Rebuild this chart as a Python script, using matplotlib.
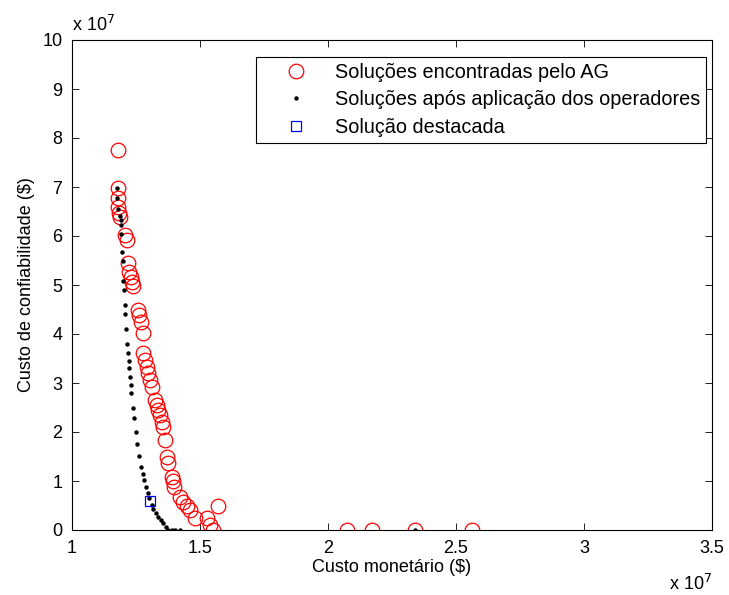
import numpy as np
import matplotlib
matplotlib.use("Agg")
from matplotlib import pyplot as plt

# custos em unidades de 1e7
ag_custo_monetario = [
    1.178, 1.178, 1.178, 1.179, 1.183, 1.187, 1.207, 1.214, 1.218,
    1.224, 1.229, 1.233, 1.239, 1.259, 1.263, 1.268, 1.279,
    1.279, 1.285, 1.292, 1.298, 1.305, 1.311,
    1.324, 1.331, 1.337, 1.344, 1.350, 1.354, 1.363,
    1.370, 1.376, 1.389, 1.393, 1.398,
    1.422, 1.435, 1.448, 1.461, 1.480,
    1.572, 1.526, 1.539, 1.552,
    2.075, 2.170, 2.340, 2.564,
]
ag_custo_confiab = [
    7.75, 6.97, 6.78, 6.59, 6.47, 6.39, 6.02, 5.92, 5.44,
    5.27, 5.17, 5.07, 4.97, 4.49, 4.39, 4.25, 4.03,
    3.61, 3.47, 3.33, 3.20, 3.06, 2.92,
    2.65, 2.55, 2.45, 2.35, 2.21, 2.11, 1.84,
    1.50, 1.36, 1.09, 0.99, 0.88,
    0.68, 0.58, 0.48, 0.41, 0.24,
    0.48, 0.24, 0.10, 0.01,
    0.0, 0.0, 0.0, 0.0,
]

op_custo_monetario = [
    1.177, 1.177, 1.181, 1.188, 1.190, 1.193, 1.193, 1.195, 1.198,
    1.200, 1.203, 1.207, 1.208, 1.211, 1.216, 1.219, 1.222, 1.224,
    1.227, 1.230, 1.232, 1.238, 1.242, 1.250, 1.255, 1.263, 1.271,
    1.276, 1.282, 1.289, 1.296, 1.302, 1.311, 1.318, 1.328, 1.337,
    1.347, 1.357, 1.367, 1.376, 1.389, 1.402, 1.422, 2.340,
]
op_custo_confiab = [
    6.97, 6.78, 6.56, 6.41, 6.33, 6.22, 6.05, 5.68, 5.49,
    5.09, 4.90, 4.59, 4.41, 4.10, 3.79, 3.62, 3.45, 3.30,
    3.13, 2.96, 2.79, 2.50, 2.28, 2.01, 1.76, 1.51, 1.28,
    1.14, 1.02, 0.88, 0.76, 0.65, 0.51, 0.42, 0.34, 0.27,
    0.20, 0.14, 0.07, 0.01, 0.0, 0.0, 0.0, 0.0,
]

destaque_monetario = [1.305]
destaque_confiab = [0.585]

matplotlib.rc('font', family=['Liberation Sans', 'DejaVu Sans'], size=13)

fig = plt.figure(figsize=(7.29, 5.95), dpi=100)
ax = fig.add_axes([72 / 729, 65 / 595, 640 / 729, 490 / 595])

ax.plot(ag_custo_monetario, ag_custo_confiab, 'o', markersize=10.5,
        markerfacecolor='none', markeredgecolor='red', markeredgewidth=0.9,
        label='Soluções encontradas pelo AG')
ax.plot(op_custo_monetario, op_custo_confiab, 'o', markersize=3.2,
        color='black', markeredgewidth=0,
        label='Soluções após aplicação dos operadores')
ax.plot(destaque_monetario, destaque_confiab, 's', markersize=7,
        markerfacecolor='none', markeredgecolor='blue', markeredgewidth=0.9,
        label='Solução destacada')

ax.set_xlim(1, 3.5)
ax.set_ylim(0, 10)
ax.set_xticks(np.arange(1, 3.51, 0.5))
ax.set_yticks(np.arange(0, 10.1, 1))
ax.set_xticklabels(['1', '1.5', '2', '2.5', '3', '3.5'])
ax.set_yticklabels([str(i) for i in range(11)])
ax.tick_params(direction='in', top=True, right=True, length=5, width=0.6, pad=7)
for s in ax.spines.values():
    s.set_linewidth(0.8)

ax.set_xlabel('Custo monetário ($)', labelpad=2)
ax.set_ylabel('Custo de confiabilidade ($)', labelpad=5)

# multiplicadores no estilo MATLAB
ax.text(0.0, 1.01, r'x 10$^{7}$', transform=ax.transAxes, ha='left', va='bottom')
ax.text(1.0, -0.09, r'x 10$^{7}$', transform=ax.transAxes, ha='right', va='top')

leg = ax.legend(loc='upper right', bbox_to_anchor=(0.991, 0.965), fancybox=False,
                edgecolor='black', framealpha=1, borderpad=0.3, labelspacing=0.42,
                handletextpad=0.2, borderaxespad=0.0, handlelength=3.5,
                fontsize=14.3)
leg.get_frame().set_linewidth(0.8)

plt.savefig('out.png', dpi=100)
